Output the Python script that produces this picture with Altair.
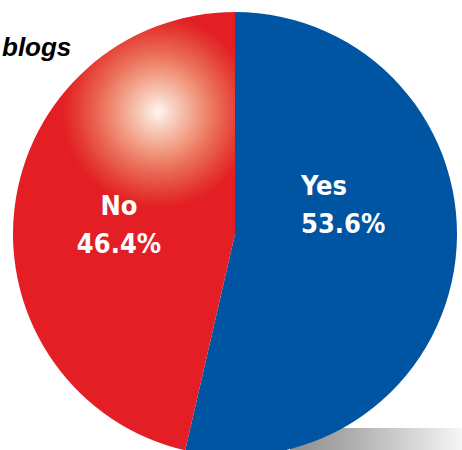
import altair as alt
import pandas as pd

# ---- data ----
answers = ["Yes", "No"]
shares = [53.6, 46.4]
share_labels = ["53.6%", "46.4%"]
title_text = "blogs"

df = pd.DataFrame({"answer": answers, "share": shares, "label": share_labels})

# ---- layout / style ----
W, H = 462, 450
CX, CY, R = 235, 234, 222
BLUE = "#0055a2"
RED = "#e31e24"
LABEL_FONT = "DejaVu Sans Condensed, Roboto, sans-serif"

red_grad = {
    "gradient": "radial",
    "x1": 0.578, "y1": 0.228, "r1": 0,
    "x2": 0.578, "y2": 0.228, "r2": 0.22,
    "stops": [
        {"offset": 0.0, "color": "#fef6f2"},
        {"offset": 0.15, "color": "#f9d3c4"},
        {"offset": 0.38, "color": "#f2a087"},
        {"offset": 0.62, "color": "#ea6a55"},
        {"offset": 0.85, "color": "#e43a32"},
        {"offset": 1.0, "color": RED},
    ],
}

shadow_grad = {
    "gradient": "linear",
    "x1": 0, "y1": 0, "x2": 1, "y2": 0,
    "stops": [
        {"offset": 0.0, "color": "#8e8e8e"},
        {"offset": 0.3, "color": "#a8a8a8"},
        {"offset": 0.65, "color": "#cfcfcf"},
        {"offset": 1.0, "color": "#f6f6f6"},
    ],
}

shadow = alt.Chart(alt.Data(values=[{}])).mark_rect(fill=shadow_grad).encode(
    x=alt.value(290), x2=alt.value(W), y=alt.value(428), y2=alt.value(H + 5)
)

pie = alt.Chart(df).mark_arc(outerRadius=R, strokeWidth=0).encode(
    theta=alt.Theta("share:Q", stack=True),
    order=alt.Order("answer:N", sort="descending"),
    color=alt.condition(alt.datum.answer == "No", alt.value(red_grad), alt.value(BLUE)),
    x=alt.value(CX),
    y=alt.value(CY),
)

label_style = {
    "Yes": {"x": 301, "y": 195, "align": "left"},
    "No": {"x": 119, "y": 215, "align": "center"},
}

label_layers = []
for a in answers:
    st = label_style[a]
    label_layers.append(
        alt.Chart(df)
        .transform_filter(alt.datum.answer == a)
        .transform_calculate(txt="datum.answer + '\\n' + datum.label")
        .mark_text(
            font=LABEL_FONT, fontSize=27, fontWeight="bold", color="white",
            align=st["align"], baseline="alphabetic", lineBreak="\n", lineHeight=38,
        )
        .encode(x=alt.value(st["x"]), y=alt.value(st["y"]), text="txt:N")
    )

title = alt.Chart(alt.Data(values=[{"t": title_text}])).mark_text(
    font="Liberation Sans", fontSize=26, fontWeight="bold", fontStyle="italic",
    color="black", align="left", baseline="alphabetic",
).encode(x=alt.value(2), y=alt.value(56), text="t:N")

chart = alt.layer(shadow, pie, *label_layers, title).properties(
    width=W, height=H, padding=0, autosize=alt.AutoSizeParams(type="none")
).configure_view(stroke=None)

chart.save("out.html", embed_options={"renderer": "svg", "actions": False})
